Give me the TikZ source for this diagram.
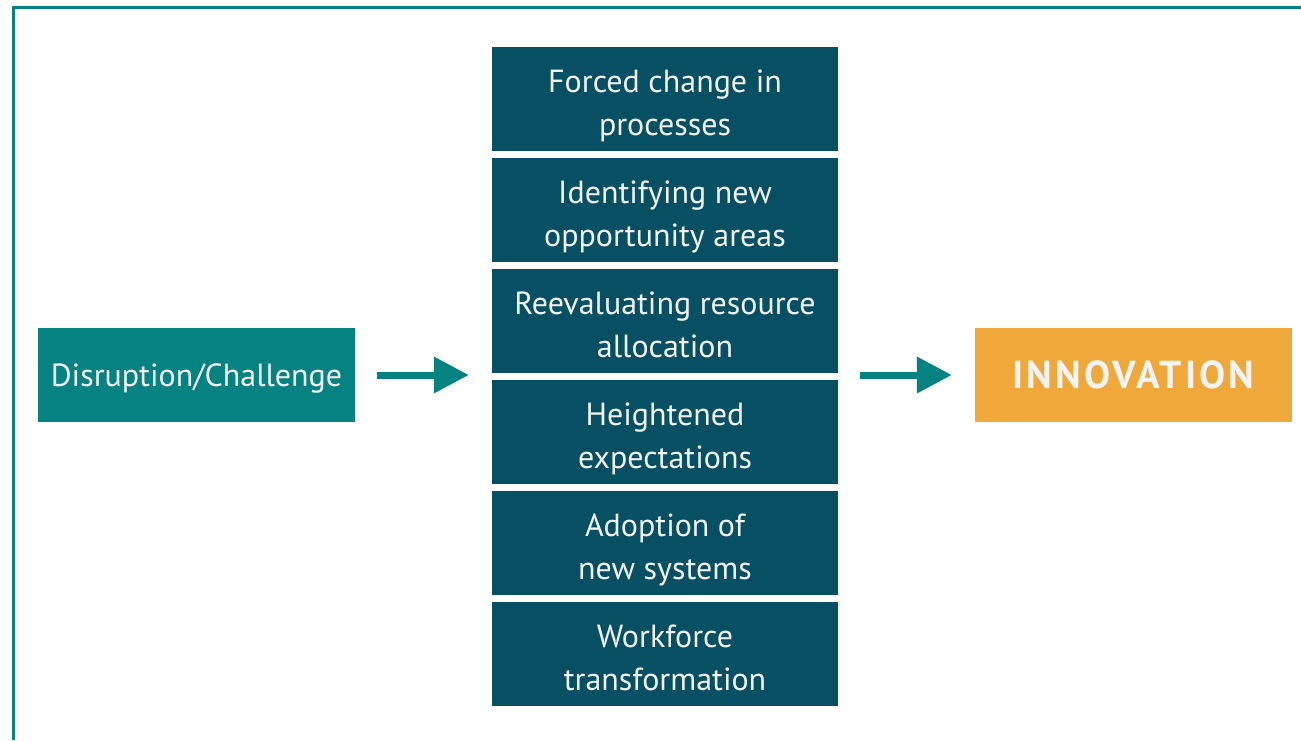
\documentclass[tikz,border=0pt]{standalone}
\usepackage{fontspec}
\setmainfont{PT Sans}
\usetikzlibrary{arrows.meta}

\definecolor{frameteal}{HTML}{078282}
\definecolor{deepblue}{HTML}{074F63}
\definecolor{amber}{HTML}{F0A83B}
\definecolor{paper}{HTML}{F4F4F4}

\tikzset{
  box/.style={rectangle, inner sep=0pt},
  boxtext/.style={text=paper, align=center, inner sep=0pt, text depth=0pt,
    yshift=-3.5pt, font=\fontsize{32}{43}\selectfont},
  sidebox/.style={box, minimum width=317pt, minimum height=94pt},
  stackbox/.style={box, fill=deepblue, minimum width=346pt, minimum height=104pt},
  flow/.style={draw=frameteal, line width=7pt,
    -{Triangle[length=35pt, width=35pt]},
    shorten <=22pt, shorten >=23pt},
}

\begin{document}
\begin{tikzpicture}[x=1pt, y=-1pt]
  \useasboundingbox (0,0) rectangle (1301,740);

  % outer frame, open towards the right and bottom
  \draw[frameteal, line width=3pt] (13.5,740) -- (13.5,7) -- (1301,7);

  % source and outcome
  \node[sidebox, fill=frameteal,
        label={[boxtext, yshift=3.5pt]center:Disruption/Challenge}] (dis) at (196.5,375) {};
  \node[sidebox, fill=amber, text=paper,
        font=\fontsize{39}{43}\bfseries\addfontfeature{LetterSpace=8}]
    (inn) at (1133.5,375) {INNOVATION};

  % stack of drivers
  \node[stackbox, label={[boxtext]center:{Forced change in\\processes}}]      (s1) at (665,99)  {};
  \node[stackbox, label={[boxtext]center:{Identifying new\\opportunity areas}}] (s2) at (665,210) {};
  \node[stackbox, label={[boxtext]center:{Reevaluating resource\\allocation}}] (s3) at (665,321) {};
  \node[stackbox, label={[boxtext]center:{Heightened\\expectations}}]          (s4) at (665,432) {};
  \node[stackbox, label={[boxtext]center:{Adoption of\\new systems}}]          (s5) at (665,543) {};
  \node[stackbox, label={[boxtext]center:{Workforce\\transformation}}]         (s6) at (665,654) {};

  % left and right edges of the stack at the flow level
  \coordinate (stackW) at (s1.west |- dis.east);
  \coordinate (stackE) at (s1.east |- dis.east);

  \draw[flow] (dis.east) -- (stackW);
  \draw[flow] (stackE) -- (inn.west);
\end{tikzpicture}
\end{document}
